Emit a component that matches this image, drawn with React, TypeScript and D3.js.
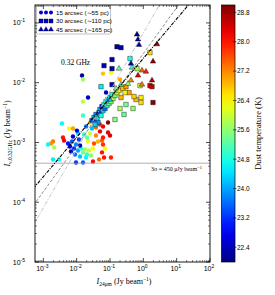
import React from 'react';
import * as d3 from 'd3';

// ---------- data ----------
const xTickValues = [1e-3, 1e-2, 1e-1, 1, 10, 100];
const yTickValues = [1e-5, 1e-4, 1e-3, 1e-2, 1e-1];
const cbarTicks = [22.4, 23.2, 24.0, 24.8, 25.6, 26.4, 27.2, 28.0, 28.8];
const tempDomain = [22.0, 29.0];

// [I24um, I0.32GHz, Tdust]
const circles15: number[][] = [
  [1.45e-2, 1.32e-2, 22.3], [1.55e-2, 1.13e-2, 25.7], [1.55e-2, 4.84e-3, 25.9],
  [7.59e-2, 6.84e-3, 22.5], [2.19e-2, 5.65e-3, 22.4], [0.2, 1.13e-2, 27.0],
  [6.17e-2, 1.42e-2, 26.8], [0.107, 1.48e-2, 26.3], [3.63e-3, 2.08e-3, 24.6],
  [1.55e-2, 2.82e-3, 25.0], [8.71e-2, 2.16e-3, 28.9], [5.0e-2, 1.53e-3, 28.2],
  [5.89e-3, 1.71e-3, 26.4], [7.76e-3, 1.71e-3, 27.0], [3.89e-3, 1.21e-3, 28.0],
  [4.17e-3, 1.08e-3, 28.2], [1.95e-3, 1.04e-3, 27.3], [1.7e-3, 9.62e-4, 27.1],
  [1.38e-3, 9.25e-4, 24.6], [2.09e-3, 8.25e-4, 25.7], [1.95e-3, 5.2e-4, 24.5],
  [2.95e-3, 5.2e-4, 24.8], [9.55e-3, 4.63e-4, 23.2], [1.55e-2, 4.63e-4, 23.5],
  [3.09e-2, 4.81e-4, 28.1], [4.68e-2, 5.2e-4, 27.4], [6.61e-2, 5.61e-4, 28.0],
  [0.107, 5.61e-4, 27.9], [7.08e-2, 7.94e-4, 26.4], [5.75e-2, 1.08e-3, 27.5],
  [6.17e-2, 1.85e-3, 28.2], [6.17e-2, 1.21e-3, 28.0], [8.71e-2, 1.47e-3, 28.3],
  [0.1, 1.31e-3, 28.4], [6.17e-2, 9.25e-4, 27.8], [5.75e-2, 6.81e-4, 28.0],
  [5.5e-3, 9.62e-4, 23.0], [6.31e-3, 8.57e-4, 22.5], [7.24e-3, 1.04e-3, 23.5],
  [8.32e-3, 7.94e-4, 23.2], [9.55e-3, 9.25e-4, 23.8], [6.76e-3, 7.08e-4, 22.4],
  [1.1e-2, 7.35e-4, 24.0], [8.91e-3, 6.3e-4, 23.6], [1.17e-2, 1.12e-3, 23.3],
  [7.76e-3, 1.26e-3, 22.6], [1.35e-2, 7.94e-4, 24.8], [1.55e-2, 6.81e-4, 25.4],
  [1.78e-2, 7.64e-4, 25.8], [2.04e-2, 6.3e-4, 25.0], [2.34e-2, 7.35e-4, 26.0],
  [2.69e-2, 6.06e-4, 25.6], [1.91e-2, 5.61e-4, 24.6], [3.09e-2, 7.94e-4, 26.3],
  [1.26e-2, 5.83e-4, 24.2], [1.66e-2, 1.36e-3, 24.9], [2.04e-2, 1.21e-3, 25.3],
  [2.51e-2, 1.41e-3, 25.9], [2.19e-2, 1.04e-3, 26.2], [3.8e-2, 1.31e-3, 27.2],
  [4.37e-2, 1.04e-3, 26.9], [3.31e-2, 9.62e-4, 27.6], [2.51e-2, 2.16e-3, 26.6],
  [2.88e-2, 1.71e-3, 24.2], [3.55e-2, 2.42e-3, 23.1], [1.91e-2, 1.85e-3, 23.7],
  [1.1e-2, 1.41e-3, 24.4], [5.0e-2, 2.0e-3, 27.8], [3.8e-2, 1.78e-3, 27.4],
  [1.26e-2, 8.91e-4, 22.3], [1.02e-2, 1.58e-3, 22.8],
];

const squares30: number[][] = [
  [0.162, 4.0e-2, 22.2], [0.214, 3.86e-2, 22.3], [0.115, 2.44e-2, 22.3],
  [0.0661, 1.93e-2, 22.4], [0.115, 1.72e-2, 22.3], [0.398, 2.53e-2, 24.7],
  [0.646, 1.72e-2, 25.8], [1.58, 3.19e-2, 26.6], [1.58, 8.95e-3, 28.3],
  [1.82, 8.6e-3, 28.5], [0.794, 8.95e-3, 26.0], [1.95, 4.66e-3, 28.9],
  [0.603, 5.23e-3, 26.8], [0.851, 5.65e-3, 26.5], [0.851, 4.66e-3, 26.6],
  [0.49, 3.7e-3, 25.6], [0.263, 2.94e-3, 25.3], [0.141, 2.42e-3, 25.5],
  [0.372, 6.84e-3, 27.0], [0.214, 5.65e-3, 26.9], [0.0537, 8.6e-3, 24.5],
  [0.115, 9.3e-3, 22.4],
  [2.88e-2, 2.33e-3, 23.5], [3.31e-2, 2.62e-3, 24.2], [3.8e-2, 2.94e-3, 23.8],
  [4.07e-2, 2.52e-3, 24.5], [4.68e-2, 3.17e-3, 23.2], [5.0e-2, 3.56e-3, 24.0],
  [5.37e-2, 2.82e-3, 24.8], [5.75e-2, 3.99e-3, 23.0], [6.17e-2, 3.42e-3, 24.4],
  [6.61e-2, 4.31e-3, 24.6], [7.08e-2, 3.7e-3, 23.6], [7.59e-2, 4.84e-3, 24.9],
  [8.13e-2, 4.15e-3, 25.1], [8.71e-2, 5.23e-3, 24.3], [9.33e-2, 4.48e-3, 25.3],
  [0.1, 5.65e-3, 24.7], [0.107, 4.84e-3, 25.6], [0.115, 6.34e-3, 25.0],
  [0.123, 5.43e-3, 25.9], [0.141, 6.1e-3, 25.4], [0.162, 6.84e-3, 26.2],
  [0.186, 7.39e-3, 26.5], [0.245, 7.98e-3, 26.7], [0.282, 6.84e-3, 26.3],
  [0.302, 8.6e-3, 27.1], [0.2, 3.7e-3, 25.8], [0.302, 4.31e-3, 25.4],
  [0.525, 5.87e-3, 26.7], [4.37e-2, 2.16e-3, 23.9], [3.55e-2, 2.0e-3, 24.3],
];

const triangles45: number[][] = [
  [0.646, 6.4e-2, 22.1], [0.692, 5.3e-2, 22.2], [0.741, 4.3e-2, 22.3],
  [2.57, 4.4e-2, 28.8], [1.95, 2.26e-2, 28.9], [0.427, 2.09e-2, 22.4],
  [0.457, 1.79e-2, 25.0], [0.186, 1.72e-2, 25.2], [0.912, 1.6e-2, 27.4],
  [1.2, 1.53e-2, 27.9], [0.692, 1.32e-2, 28.3], [0.427, 1.09e-2, 27.2],
  [1.82, 1.09e-2, 28.6], [0.912, 9.3e-3, 27.3], [0.214, 9.3e-3, 25.3],
  [0.347, 9.6e-3, 25.7], [0.1, 5.2e-3, 24.3], [0.151, 7.98e-3, 25.5],
];

// power-law fits: log10(S) = intercept + slope * log10(I24)
const fitSlopes = [0.975, 0.77, 0.66];
const fitLogIntercepts = [-1.168, -1.513, -1.593];
const sigma3 = 4.5e-4;
const legendLabels = ['15 arcsec (\u223c55 pc)', '30 arcsec (\u223c110 pc)', '45 arcsec (\u223c165 pc)'];

// ---------- helpers ----------
const jet = (t: number) => {
  const c = (v: number) => Math.max(0, Math.min(1, v));
  const r = c(1.5 - Math.abs(4 * t - 3));
  const g = c(1.5 - Math.abs(4 * t - 2));
  const b = c(1.5 - Math.abs(4 * t - 1));
  return d3.rgb(r * 255, g * 255, b * 255).formatHex();
};

const L = 35, R = 210, T = 5, B = 262;
const sans = 'Liberation Sans, Arial, sans-serif';
const serif = 'Liberation Serif, Times New Roman, serif';

export default function App() {
  const x = d3.scaleLog().domain([Math.pow(10, -3.25), 100]).range([L, R]);
  const y = d3.scaleLog().domain([1e-5, Math.pow(10, -0.7)]).range([B, T]);
  const tScale = d3.scaleLinear().domain(tempDomain).range([0, 1]);
  const color = (tv: number) => jet(tScale(tv));
  const cbX0 = 221.5, cbX1 = 235;
  const cbY = d3.scaleLinear().domain(tempDomain).range([B, T]);

  const xMinor: number[] = [];
  for (let d = -4; d <= 2; d++) for (let k = 2; k <= 9; k++) {
    const v = k * Math.pow(10, d);
    if (v > x.domain()[0] && v < x.domain()[1]) xMinor.push(v);
  }
  const yMinor: number[] = [];
  for (let d = -5; d <= 0; d++) for (let k = 2; k <= 9; k++) {
    const v = k * Math.pow(10, d);
    if (v > y.domain()[0] && v < y.domain()[1]) yMinor.push(v);
  }

  const circleSym = d3.symbol().type(d3.symbolCircle).size(15)();
  const squareSym = d3.symbol().type(d3.symbolSquare).size(20)();
  const triSym = d3.symbol().type(d3.symbolTriangle).size(13)();

  const lineGen = d3.line<number[]>().x(d => x(d[0])).y(d => y(d[1]));
  const fitPts = (i: number) => {
    const xs = [Math.pow(10, -3.3), 100];
    return xs.map(v => [v, Math.pow(10, fitLogIntercepts[i] + fitSlopes[i] * Math.log10(v))]);
  };
  const fitStyles = [
    { stroke: '#bdbdbd', dash: '4,1.5,1,1.5', w: 0.9 },
    { stroke: '#808080', dash: '3,1.8', w: 0.9 },
    { stroke: '#000000', dash: '3.5,1.2,1,1.2', w: 1.1 },
  ];

  const gradStops = d3.range(0, 1.0001, 0.05);

  const expLabel = (v: number) => Math.round(Math.log10(v));
  const legendSyms = [circleSym, squareSym, triSym];

  return (
    <svg width={275} height={295} style={{ position: 'absolute', left: 0, top: 0, background: '#fff' }}>
      <defs>
        <clipPath id="plotclip"><rect x={L} y={T} width={R - L} height={B - T} /></clipPath>
        <linearGradient id="jetgrad" x1="0" y1="1" x2="0" y2="0">
          {gradStops.map((s, i) => <stop key={i} offset={s} stopColor={jet(s)} />)}
        </linearGradient>
      </defs>

      {/* data */}
      <g clipPath="url(#plotclip)">
        {circles15.map((d, i) => (
          <path key={'c' + i} d={circleSym} transform={`translate(${x(d[0])},${y(d[1])})`} fill={color(d[2])} />
        ))}
        {squares30.map((d, i) => (
          <path key={'s' + i} d={squareSym} transform={`translate(${x(d[0])},${y(d[1])})`} fill={color(d[2])} stroke="#000" strokeWidth={0.4} />
        ))}
        {triangles45.map((d, i) => (
          <path key={'t' + i} d={triSym} transform={`translate(${x(d[0])},${y(d[1])})`} fill={color(d[2])} stroke="#000" strokeWidth={0.4} />
        ))}
        <line x1={L} x2={R} y1={y(sigma3)} y2={y(sigma3)} stroke="#9a9a9a" strokeWidth={0.8} />
        {fitStyles.map((s, i) => (
          <path key={'f' + i} d={lineGen(fitPts(i)) || ''} fill="none" stroke={s.stroke} strokeWidth={s.w} strokeDasharray={s.dash} />
        ))}
      </g>

      {/* texts inside */}
      <text x={61} y={65} fontFamily={serif} fontSize={7.5}>0.32 GHz</text>
      <text x={202} y={171} fontFamily={serif} fontSize={6} textAnchor="end">
        3σ = 450 μJy beam<tspan dy={-2.5} fontSize={4.5}>−1</tspan>
      </text>

      {/* legend */}
      <rect x={36.5} y={6} width={74} height={28} fill="#fff" stroke="#999" strokeWidth={0.6} rx={1} />
      {legendLabels.map((lab, i) => {
        const ly = 12.5 + i * 8.5;
        return (
          <g key={'lg' + i}>
            {[41, 46, 51].map((lx, j) => (
              <path key={j} d={legendSyms[i]} transform={`translate(${lx},${ly}) scale(0.9)`} fill="#0000d0" stroke={i > 0 ? '#000' : 'none'} strokeWidth={0.4} />
            ))}
            <text x={56} y={ly + 2.2} fontFamily={sans} fontSize={6.2}>{lab}</text>
          </g>
        );
      })}

      {/* frame */}
      <rect x={L} y={T} width={R - L} height={B - T} fill="none" stroke="#000" strokeWidth={0.9} />

      {/* x ticks */}
      {xTickValues.map((v, i) => (
        <g key={'xt' + i}>
          <line x1={x(v)} x2={x(v)} y1={B} y2={B - 4} stroke="#000" strokeWidth={0.7} />
          <line x1={x(v)} x2={x(v)} y1={T} y2={T + 4} stroke="#000" strokeWidth={0.7} />
          <text x={x(v) - 1} y={271} fontFamily={sans} fontSize={7} textAnchor="middle">
            10<tspan dy={-3} fontSize={5}>{expLabel(v)}</tspan>
          </text>
        </g>
      ))}
      {xMinor.map((v, i) => (
        <g key={'xm' + i}>
          <line x1={x(v)} x2={x(v)} y1={B} y2={B - 2} stroke="#000" strokeWidth={0.5} />
          <line x1={x(v)} x2={x(v)} y1={T} y2={T + 2} stroke="#000" strokeWidth={0.5} />
        </g>
      ))}
      {/* y ticks */}
      {yTickValues.map((v, i) => (
        <g key={'yt' + i}>
          <line x1={L} x2={L + 4} y1={y(v)} y2={y(v)} stroke="#000" strokeWidth={0.7} />
          <line x1={R} x2={R - 4} y1={y(v)} y2={y(v)} stroke="#000" strokeWidth={0.7} />
          <text x={25} y={y(v) + 2.5} fontFamily={sans} fontSize={7} textAnchor="end">
            10<tspan dy={-3} fontSize={5}>{expLabel(v)}</tspan>
          </text>
        </g>
      ))}
      {yMinor.map((v, i) => (
        <g key={'ym' + i}>
          <line x1={L} x2={L + 2} y1={y(v)} y2={y(v)} stroke="#000" strokeWidth={0.5} />
          <line x1={R} x2={R - 2} y1={y(v)} y2={y(v)} stroke="#000" strokeWidth={0.5} />
        </g>
      ))}

      {/* axis labels */}
      <text x={124} y={284} fontFamily={serif} fontSize={8} textAnchor="middle">
        <tspan fontStyle="italic">I</tspan><tspan fontSize={5.5} dy={2}>24μm</tspan><tspan dy={-2}> (Jy beam</tspan><tspan fontSize={5.5} dy={-3}>−1</tspan><tspan dy={3}>)</tspan>
      </text>
      <text transform={`translate(10,${(T + B) / 2}) rotate(-90)`} fontFamily={serif} fontSize={8} textAnchor="middle">
        <tspan fontStyle="italic">I</tspan><tspan fontSize={5.5} dy={2}>ν,0.32GHz</tspan><tspan dy={-2}> (Jy beam</tspan><tspan fontSize={5.5} dy={-3}>−1</tspan><tspan dy={3}>)</tspan>
      </text>

      {/* colorbar */}
      <rect x={cbX0} y={T} width={cbX1 - cbX0} height={B - T} fill="url(#jetgrad)" stroke="#000" strokeWidth={0.7} />
      {cbarTicks.map((v, i) => (
        <g key={'cb' + i}>
          <line x1={cbX1 - 2} x2={cbX1 + 1.5} y1={cbY(v)} y2={cbY(v)} stroke="#000" strokeWidth={0.6} />
          <text x={cbX1 + 2} y={cbY(v) + 2.3} fontFamily={sans} fontSize={6.5}>{v.toFixed(1)}</text>
        </g>
      ))}
      <text transform={`translate(261,${(T + B) / 2}) rotate(-90)`} fontFamily={serif} fontSize={8.5} textAnchor="middle">
        Dust temperature (K)
      </text>
    </svg>
  );
}
